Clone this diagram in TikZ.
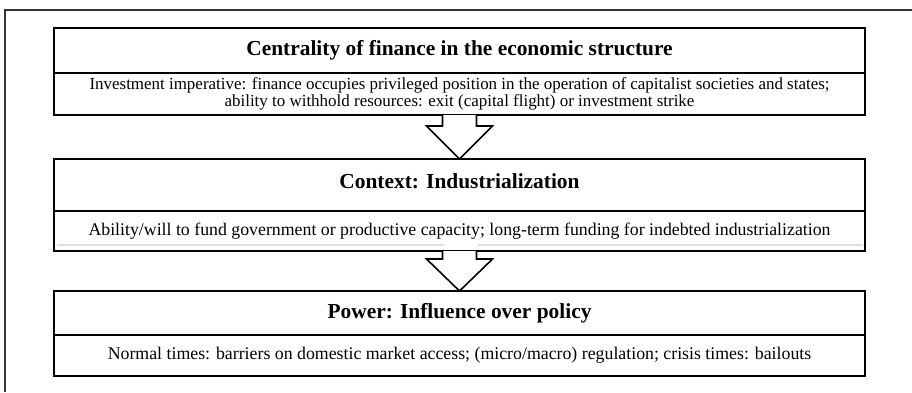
\documentclass[tikz,border=0pt]{standalone}
\usepackage{fontspec}
\setmainfont{Liberation Serif}
\usetikzlibrary{positioning,calc}

\begin{document}
\begin{tikzpicture}[
    x=1pt, y=-1pt,
    every node/.style={inner sep=0pt, outer sep=0pt},
    headbox/.style={draw, line width=2.4pt, minimum width=811pt, font=\fontsize{21.4}{22}\selectfont\bfseries},
    textbox/.style={draw, line width=2.4pt, minimum width=811pt, align=center, font=\fontsize{17.8}{18}\selectfont},
    blockarrow/.style={draw, line width=1.6pt, fill=white, line join=miter}
  ]
  \useasboundingbox (0,0) rectangle (912,392);
  \draw[line width=1.2pt, black!80] (5,392) -- (5,10) -- (912,10);

  % first box
  \node[headbox, minimum height=45pt, anchor=north] (head1) at (459.5,28) {Centrality of finance in the economic structure};
  \node[textbox, minimum height=42pt, font=\fontsize{16.95}{16.5}\selectfont, below=0pt of head1] (text1) {Investment imperative: finance occupies privileged position in the operation of capitalist societies and states;\\ability to withhold resources: exit (capital flight) or investment strike};

  % second box
  \node[headbox, minimum height=52pt, text depth=7pt, anchor=north] (head2) at (459.5,159) {Context: Industrialization};
  \node[textbox, minimum height=40pt, below=0pt of head2] (text2) {Ability/will to fund government or productive capacity; long-term funding for indebted industrialization};
  \draw[black!12, line width=2pt] ($(text2.south west)+(3,-6)$) -- ($(text2.south)+(-16,-6)$);
  \draw[black!12, line width=2pt] ($(text2.south)+(18,-6)$) -- ($(text2.south east)+(-2,-6)$);

  % third box
  \node[headbox, minimum height=44pt, anchor=north] (head3) at (459.5,291) {Power: Influence over policy};
  \node[textbox, minimum height=41pt, below=0pt of head3] (text3) {Normal times: barriers on domestic market access; (micro/macro) regulation; crisis times: bailouts};

  % arrows between boxes
  \coordinate (neck1) at ($(head2.north)+(0,-33)$);
  \draw[blockarrow] ($(text1.south)+(-17,0)$) -- ($(neck1)+(-17,0)$) -- ($(neck1)+(-33,0)$) -- (head2.north)
      -- ($(neck1)+(33,0)$) -- ($(neck1)+(17,0)$) -- ($(text1.south)+(17,0)$);
  \coordinate (neck2) at ($(head3.north)+(0,-32)$);
  \draw[blockarrow] ($(text2.south)+(-17,0)$) -- ($(neck2)+(-17,0)$) -- ($(neck2)+(-33,0)$) -- (head3.north)
      -- ($(neck2)+(33,0)$) -- ($(neck2)+(17,0)$) -- ($(text2.south)+(17,0)$);
\end{tikzpicture}
\end{document}
